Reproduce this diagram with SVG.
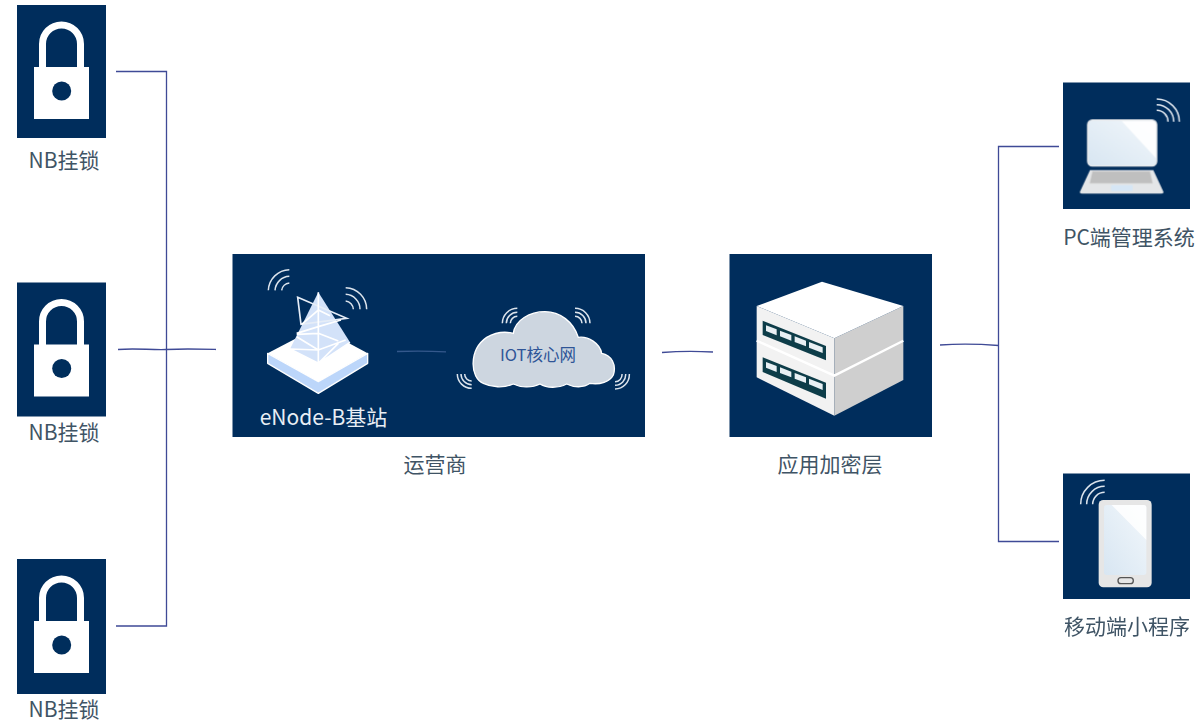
<svg xmlns="http://www.w3.org/2000/svg" width="1200" height="727" viewBox="0 0 1200 727">
<style>
.box{fill:#002d5c}
.t{font-family:"Noto Sans CJK SC","Liberation Sans",sans-serif;font-size:21px;fill:#3f5465;text-anchor:middle}
.c{fill:none;stroke:#3f4a96;stroke-width:1.300}
.w{fill:none;stroke:#dbe3ec;stroke-width:4.500;stroke-linecap:butt}
.soft{filter:url(#soft)}
</style>
<defs>
<filter id="soft" x="-5%" y="-5%" width="110%" height="110%"><feGaussianBlur stdDeviation="0.5"/></filter>
<linearGradient id="scr" x1="0" y1="1" x2="1" y2="0"><stop offset="0" stop-color="#d8e6f2"/><stop offset="1" stop-color="#f2f7fb"/></linearGradient>
<g id="lockicon">
<path d="M42.500 68V44a19 19 0 0 1 38 0V68" fill="none" stroke="#fff" stroke-width="7"/>
<rect x="34" y="67" width="55" height="52" fill="#fff"/>
<circle cx="61.700" cy="91" r="9.500" fill="#002d5c"/>
</g>
</defs>
<g id="lock1"><rect class="box" x="17" y="5" width="89" height="133"/><use href="#lockicon" class="soft"/><text class="t" x="64" y="168">NB挂锁</text></g>
<g id="lock2"><rect class="box" x="17" y="282.500" width="89" height="134"/><use href="#lockicon" y="277.500" class="soft"/><text class="t" x="64" y="440">NB挂锁</text></g>
<g id="lock3"><rect class="box" x="17" y="559" width="89" height="135"/><use href="#lockicon" y="554" class="soft"/><text class="t" x="64" y="717">NB挂锁</text></g>
<g id="operator">
<rect class="box" x="232.500" y="254" width="412.500" height="183"/>
<g id="enodeb" class="soft" transform="translate(255 265) scale(.33333)">
<path d="M38 265L190 350L338 265V295L190 385L38 295Z" fill="#bcd6fa" stroke="#fff" stroke-width="4" stroke-linejoin="round"/>
<path d="M38 265L190 185L338 265L190 350Z" fill="#fff"/>
<path d="M190 82L285 232L190 295L105 252Z" fill="#d3e2f9"/>
<path d="M128 97L275 160L138 178Z" fill="none" stroke="#e6edf7" stroke-width="5"/>
<path d="M190 82V295M140 178L190 135L225 152M125 205L190 185L258 165M190 205L125 208M190 205L250 228M105 252L190 255L272 225M125 215L190 255M190 295L250 235M190 295L105 252M190 295L285 232" fill="none" stroke="#fff" stroke-width="5"/>
<path class="w" d="M103 14A65 65 0 0 0 40 76M103 34A45 45 0 0 0 60 76M103 54A26 26 0 0 0 80 76M272 68A65 65 0 0 1 335 133M272 88A45 45 0 0 1 315 133M272 108A26 26 0 0 1 295 133"/>
</g>
<g id="cloud" class="soft" transform="translate(230 250) scale(.33333)">
<path d="M760 400C720 385 715 300 770 262C800 245 830 245 850 250C855 210 900 185 945 185C990 185 1030 215 1045 262C1075 258 1110 280 1115 310C1145 315 1160 345 1150 375C1140 395 1110 405 1080 400C1060 415 1030 412 1010 402C985 415 950 415 930 402C905 415 870 412 850 402C820 415 785 412 760 400Z" fill="#cdd6e0" stroke="#fff" stroke-width="4"/>
<path class="w" d="M817 220A45 45 0 0 1 862 175M829 220A33 33 0 0 1 862 187M841 220A21 21 0 0 1 862 199M1035 175A45 45 0 0 1 1080 220M1035 187A33 33 0 0 1 1068 220M1035 199A21 21 0 0 1 1056 220M725 415A43 43 0 0 1 682 372M725 404A32 32 0 0 1 693 372M725 393A21 21 0 0 1 704 372M1155 417A43 43 0 0 0 1198 372M1155 406A32 32 0 0 0 1187 372M1155 395A21 21 0 0 0 1176 372"/>
</g>
<text x="323.500" y="425" font-family="'Noto Sans CJK SC','Liberation Sans',sans-serif" font-size="21" fill="#e8eef4" text-anchor="middle">eNode-B基站</text>
<text x="538" y="361" font-family="'Noto Sans CJK SC','Liberation Sans',sans-serif" font-size="16.500" fill="#2f5597" text-anchor="middle">IOT核心网</text>
<text class="t" x="435" y="472">运营商</text>
</g>
<g id="encrypt">
<rect class="box" x="729.500" y="254" width="202.500" height="183"/>
<g class="soft" transform="translate(650 250) scale(.33333)">
<path d="M320 168L553 265V497L320 382Z" fill="#f2f2f2"/>
<path d="M553 265L760 168V390L553 497Z" fill="#cfcfcf"/>
<path d="M516 95L760 168L553 265L320 168Z" fill="#fff"/>
<path d="M320 272L553 377L760 272" fill="none" stroke="#fff" stroke-width="7"/>
<path d="M338 212L528 288V331L338 255Z" fill="#103e4a"/>
<path d="M348 226L380 238V256L348 243ZM390 242L424 255V272L390 259ZM434 259L468 272V289L434 276ZM477 276L518 292V309L477 293Z" fill="#e8f0f4"/>
<path d="M338 322L528 398V446L338 366Z" fill="#103e4a"/>
<path d="M348 336L380 348V366L348 353ZM390 352L424 365V382L390 369ZM434 369L468 382V399L434 386ZM477 386L518 402V420L477 403Z" fill="#e8f0f4"/>
</g>
<text class="t" x="830" y="472">应用加密层</text>
</g>
<g id="pc">
<rect class="box" x="1063" y="82.500" width="127" height="126.500"/>
<g class="soft" transform="translate(1075 95) scale(.33333)">
<path d="M45 225H235L265 290Q267 296 258 296H22Q13 296 15 290Z" fill="#e4e6e8"/>
<path d="M52 229H225L233 265H44Z" fill="#bfbfbf" stroke="#d8d8d8" stroke-width="2"/>
<rect x="108" y="270" width="65" height="18" rx="3" fill="#d6e6f5"/>
<rect x="38" y="75" width="207" height="138" rx="14" fill="url(#scr)" stroke="#ececec" stroke-width="4"/>
<path d="M140 78H232Q243 78 243 90V190Z" fill="#fff" opacity=".9"/>
<path class="w" d="M245 12A68 68 0 0 1 313 80M245 29A51 51 0 0 1 296 80M245 46A34 34 0 0 1 279 80"/>
</g>
<text class="t" x="1129" y="245">PC端管理系统</text>
</g>
<g id="mobile">
<rect class="box" x="1063" y="473.500" width="127" height="125.500"/>
<g class="soft" transform="translate(1040 460) scale(.33333)">
<rect x="176" y="120" width="159" height="262" rx="14" fill="#e6e6e6"/>
<rect x="192" y="135" width="127" height="210" rx="8" fill="url(#scr)"/>
<path d="M215 135H311Q319 135 319 143V240Z" fill="#fff" opacity=".85"/>
<rect x="234" y="353" width="46" height="18" rx="9" fill="#e6e6e6" stroke="#555" stroke-width="4"/>
<path class="w" d="M122 133A72 72 0 0 1 194 61M140 133A54 54 0 0 1 194 79M158 133A36 36 0 0 1 194 97"/>
</g>
<text class="t" x="1127" y="634">移动端小程序</text>
</g>
<g id="connectors">
<path class="c" d="M116 71.500H166.500V626H116"/>
<path class="c" d="M118 349.500C135 348 150 350 166 349.500C185 348.500 200 349 216 349.500"/>
<path d="M397 351.500C415 350.800 430 351 446 351.800" fill="none" stroke="#34588c" stroke-width="1.300"/>
<path class="c" d="M662 352.500C680 351 695 351 713 352"/>
<path class="c" d="M940 345C960 343.500 980 344 998.500 345.500"/>
<path class="c" d="M1059 146.500H998.500V541.500H1059"/>
</g>
</svg>
